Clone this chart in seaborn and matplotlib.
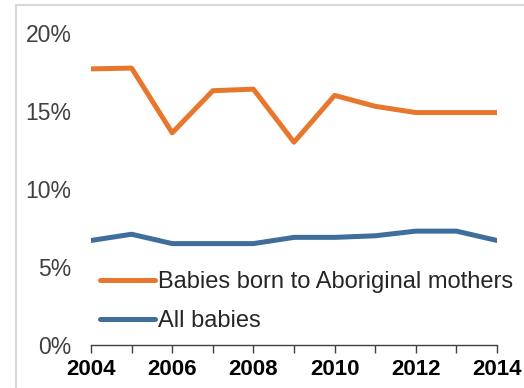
import matplotlib
matplotlib.use("Agg")
import matplotlib.pyplot as plt
from matplotlib.lines import Line2D
import seaborn as sns
import pandas as pd

years = list(range(2004, 2015))
aboriginal = [17.7, 17.75, 13.6, 16.3, 16.4, 13.0, 16.0, 15.3, 14.9, 14.9, 14.9]
all_babies = [6.7, 7.1, 6.5, 6.5, 6.5, 6.9, 6.9, 7.0, 7.3, 7.3, 6.7]
series_names = ["Babies born to Aboriginal mothers", "All babies"]
colors = ["#E8772E", "#3F6E9C"]
y_ticks = [0, 5, 10, 15, 20]
x_label_years = [2004, 2006, 2008, 2010, 2012, 2014]

df = pd.DataFrame({
    "year": years * 2,
    "pct": aboriginal + all_babies,
    "series": [series_names[0]] * len(years) + [series_names[1]] * len(years),
})

sns.set_theme(style="white")
plt.rcParams["font.family"] = ["Liberation Sans", "DejaVu Sans"]

fig = plt.figure(figsize=(5.24, 3.88), dpi=100)
ax = fig.add_axes([91 / 524, 1 - 345 / 388, 406 / 524, 312 / 388])

sns.lineplot(data=df, x="year", y="pct", hue="series", hue_order=series_names,
             palette=colors, linewidth=3.6, ax=ax, legend=False)

ax.set_xlim(2004, 2014)
ax.set_ylim(0, 20)
ax.set_xlabel("")
ax.set_ylabel("")

ax.set_yticks(y_ticks)
ax.set_yticklabels([f"{v}%" for v in y_ticks], fontsize=16.5, color="#404040")
ax.tick_params(axis="y", length=0, pad=14)

ax.set_xticks(years, minor=True)
ax.set_xticks(x_label_years)
ax.set_xticklabels([str(y) for y in x_label_years], fontsize=16, fontweight="bold", color="black")
ax.tick_params(axis="x", which="both", direction="out", length=6, width=1,
               color="#404040", pad=4, bottom=True)

for side in ["top", "right", "left"]:
    ax.spines[side].set_visible(False)
ax.spines["bottom"].set_color("#404040")
ax.spines["bottom"].set_linewidth(1)

handles = [Line2D([0], [0], color=c, linewidth=3.6) for c in colors]
ax.legend(handles, series_names, loc="lower left", bbox_to_anchor=(0.0, 0.012),
          frameon=False, fontsize=17, handlelength=2.3, handletextpad=0.12,
          labelspacing=0.7, borderaxespad=0, labelcolor="#262626")

# light frame around the chart area
fig.add_artist(Line2D([16 / 524, 1], [1 - 5 / 388, 1 - 5 / 388], color="#D9D9D9",
                      linewidth=1.5, transform=fig.transFigure))
fig.add_artist(Line2D([16 / 524, 16 / 524], [0, 1 - 5 / 388], color="#D9D9D9",
                      linewidth=1.5, transform=fig.transFigure))

fig.savefig("out.png", dpi=100, facecolor="white")
